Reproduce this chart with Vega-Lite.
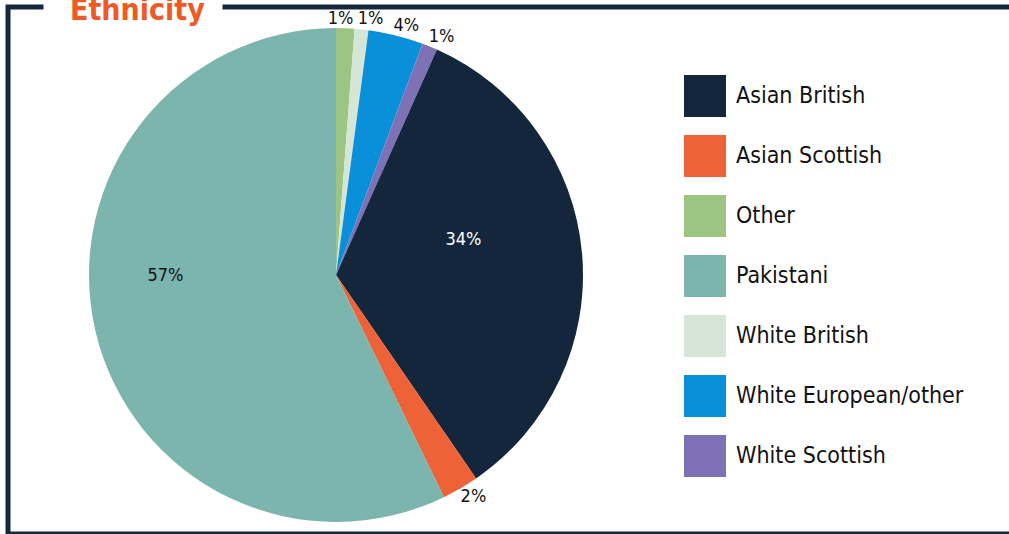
{
  "$schema": "https://vega.github.io/schema/vega-lite/v6.json",
  "width": 1006,
  "height": 527,
  "autosize": "none",
  "padding": {"left": 8, "top": 7, "right": 0, "bottom": 0},
  "background": "white",
  "view": {"stroke": "#14283d", "strokeWidth": 5, "strokeDash": [35.5, 179, 4000]},
  "title": {
    "text": "Ethnicity",
    "anchor": "start",
    "frame": "group",
    "font": "DejaVu Sans Condensed",
    "fontSize": 30,
    "fontWeight": "bold",
    "color": "#ef5a24",
    "baseline": "alphabetic",
    "offset": -43,
    "dx": 62
  },
  "config": {
    "font": "DejaVu Sans Condensed"
  },
  "data": {
    "values": [
      {"ethnicity": "Other", "share": 0.012, "order": 1},
      {"ethnicity": "White British", "share": 0.009, "order": 2},
      {"ethnicity": "White European/other", "share": 0.036, "order": 3},
      {"ethnicity": "White Scottish", "share": 0.010, "order": 4},
      {"ethnicity": "Asian British", "share": 0.337, "order": 5},
      {"ethnicity": "Asian Scottish", "share": 0.024, "order": 6},
      {"ethnicity": "Pakistani", "share": 0.572, "order": 7}
    ]
  },
  "encoding": {
    "theta": {"field": "share", "type": "quantitative", "stack": true},
    "order": {"field": "order", "type": "quantitative"}
  },
  "layer": [
    {
      "mark": {"type": "arc", "radius": 247, "x": 328, "y": 268},
      "encoding": {
        "color": {
          "field": "ethnicity",
          "type": "nominal",
          "scale": {
            "domain": ["Asian British", "Asian Scottish", "Other", "Pakistani", "White British", "White European/other", "White Scottish"],
            "range": ["#14263c", "#ee6238", "#9cc584", "#7cb4ae", "#d5e6d7", "#0a8fd9", "#7e71b6"]
          },
          "legend": {
            "title": null,
            "orient": "none",
            "legendX": 676,
            "legendY": 68,
            "symbolType": "square",
            "symbolSize": 1764,
            "symbolStrokeWidth": 0,
            "symbolOpacity": 1,
            "labelFont": "DejaVu Sans Condensed",
            "labelFontSize": 23,
            "labelColor": "#111111",
            "labelOffset": 10,
            "labelLimit": 400,
            "rowPadding": 18
          }
        }
      }
    },
    {
      "mark": {"type": "text", "radius": 128, "x": 328, "y": 268, "dy": -23, "fontSize": 18, "color": "white", "baseline": "middle"},
      "encoding": {
        "text": {"value": "", "condition": {"test": "datum.ethnicity === 'Asian British'", "field": "share", "type": "quantitative", "format": ".0%"}}
      }
    },
    {
      "mark": {"type": "text", "radius": 175, "x": 328, "y": 268, "dy": -38, "fontSize": 18, "color": "#111111", "baseline": "middle"},
      "encoding": {
        "text": {"value": "", "condition": {"test": "datum.ethnicity === 'Pakistani'", "field": "share", "type": "quantitative", "format": ".0%"}}
      }
    },
    {
      "mark": {"type": "text", "radius": 257, "x": 328, "y": 268, "dx": 8, "fontSize": 18, "color": "#111111", "baseline": "middle"},
      "encoding": {
        "text": {"value": "", "condition": {"test": "indexof(['White British', 'White European/other', 'White Scottish', 'Asian Scottish'], datum.ethnicity) >= 0", "field": "share", "type": "quantitative", "format": ".0%"}}
      }
    },
    {
      "mark": {"type": "text", "radius": 256, "x": 328, "y": 268, "dx": -5, "fontSize": 18, "color": "#111111", "baseline": "middle"},
      "encoding": {
        "text": {"value": "", "condition": {"test": "datum.ethnicity === 'Other'", "field": "share", "type": "quantitative", "format": ".0%"}}
      }
    }
  ]
}
